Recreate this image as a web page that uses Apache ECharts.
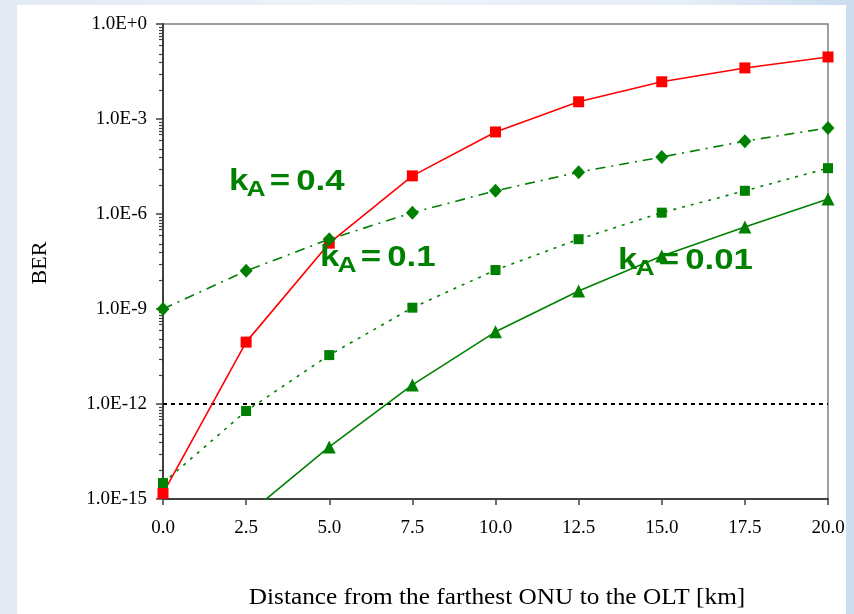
<!DOCTYPE html>
<html><head><meta charset="utf-8">
<script src="https://cdn.jsdelivr.net/npm/echarts@6/dist/echarts.min.js"></script>
<style>
html,body{margin:0;padding:0;width:854px;height:614px;overflow:hidden;
background:linear-gradient(90deg,#e2eaf4 0%,#edf2f8 40%,#e6eef7 80%,#cbdcef 100%);}
#chart{width:854px;height:614px;}
</style></head><body><div id="chart"></div>
<script>
// ---- data ----
const distances = [0, 2.5, 5, 7.5, 10, 12.5, 15, 17.5, 20];
const berRed      = [1.5e-15, 9e-11, 1.2e-7, 1.6e-5, 3.9e-4, 3.5e-3, 1.5e-2, 4.1e-2, 9.1e-2];
const berDiamond  = [1e-9, 1.6e-8, 1.6e-7, 1.1e-6, 5.4e-6, 2.1e-5, 6.3e-5, 2.0e-4, 5.2e-4];
const berSquare   = [3.2e-15, 6e-13, 3.5e-11, 1.1e-9, 1.7e-8, 1.6e-7, 1.1e-6, 5.4e-6, 2.8e-5];
const berTriangle = [2e-19, 3e-16, 4.4e-14, 4e-12, 1.9e-10, 3.7e-9, 4.7e-8, 3.9e-7, 3e-6];
const berThreshold = 1e-12;
const xTickLabels = ['0.0','2.5','5.0','7.5','10.0','12.5','15.0','17.5','20.0'];
const yTickLabels = ['1.0E-15','1.0E-12','1.0E-9','1.0E-6','1.0E-3','1.0E+0'];
const xTitle = 'Distance from the farthest ONU to the OLT [km]';
const yTitle = 'BER';
const annoK = ['k','k','k'];
const annoSub = ['A','A','A'];
const annoEq = ['=','=','='];
const annoVal = ['0.4','0.1','0.01'];

// ---- helpers ----
const pairs = arr => distances.map((d, i) => [d, arr[i]]);
const majorExp = [0, -3, -6, -9, -12];
const minorOffsets = [0.1, 0.19, 0.29, 0.38, 0.49, 0.66, 0.95, 1.22, 1.58, 2.1];
const minorTicks = [];
majorExp.forEach(e => minorOffsets.forEach(d => minorTicks.push(Math.pow(10, e - d))));

const GREEN = '#008000';
const annoPos = [
  {x: 229, base: 192},
  {x: 320, base: 268},
  {x: 618, base: 271}
];
const SX = 1.2;
const bigFont = 'bold 29px "Liberation Sans", Arial, sans-serif';
const graphics = [
  {type: 'rect', z: -10, silent: true, shape: {x: 17, y: 5, width: 829, height: 620}, style: {fill: '#ffffff'}}
];
annoPos.forEach((p, i) => {
  graphics.push({
    type: 'group', x: p.x, y: p.base, scaleX: SX, z: 50,
    children: [
      {type: 'text', z: 50, style: {text: annoK[i], x: 0, y: -10, verticalAlign: 'middle', font: bigFont, fill: GREEN}},
      {type: 'text', z: 50, style: {text: annoSub[i], x: 14.5, y: 6 - 7.7, verticalAlign: 'middle',
        font: 'bold 22px "Liberation Sans", Arial, sans-serif', fill: GREEN}},
      {type: 'text', z: 50, style: {text: annoEq[i], x: 34, y: -10, verticalAlign: 'middle', font: bigFont, fill: GREEN}},
      {type: 'text', z: 50, style: {text: annoVal[i], x: 56, y: -10, verticalAlign: 'middle', font: bigFont, fill: GREEN}}
    ]
  });
});
graphics.push({type: 'text', z: 50, x: 497, y: 598, scaleX: 1.1, style: {text: xTitle, x: 0, y: 0, align: 'center', verticalAlign: 'middle',
  font: '23px "Liberation Serif", "Times New Roman", serif', fill: '#000'}});
graphics.push({type: 'text', z: 50, rotation: Math.PI / 2, x: 40, y: 263, style: {text: yTitle, x: 0, y: 0, align: 'center', verticalAlign: 'middle',
  font: '22px "Liberation Serif", "Times New Roman", serif', fill: '#000'}});

const serifLabel = {fontFamily: '"Liberation Serif", "Times New Roman", serif', fontSize: 19, color: '#000'};

const chart = echarts.init(document.getElementById('chart'), null, {renderer: 'canvas'});
chart.setOption({
  animation: false,
  backgroundColor: 'transparent',
  grid: {left: 163, top: 24, width: 665, height: 475, show: true, borderColor: '#808080', borderWidth: 1.5, backgroundColor: 'transparent'},
  graphic: graphics,
  xAxis: {
    type: 'value', min: 0, max: 20, interval: 2.5,
    axisLine: {show: true, lineStyle: {color: '#404040', width: 2}},
    axisTick: {show: true, length: 6, inside: false, lineStyle: {color: '#404040', width: 1.5}},
    splitLine: {show: false},
    axisLabel: Object.assign({margin: 20, formatter: v => xTickLabels[Math.round(v / 2.5)]}, serifLabel)
  },
  yAxis: [
    {
      type: 'log', logBase: 10, min: 1e-15, max: 1, interval: 3,
      axisLine: {show: true, lineStyle: {color: '#404040', width: 2}},
      axisTick: {show: true, length: 7, lineStyle: {color: '#404040', width: 1.5}},
      splitLine: {show: false},
      axisLabel: Object.assign({margin: 16, formatter: v => yTickLabels[Math.round((Math.log10(v) + 15) / 3)]}, serifLabel)
    },
    {
      type: 'log', logBase: 10, min: 1e-15, max: 1, interval: 3, position: 'left',
      axisLine: {show: false},
      axisTick: {show: true, length: 4, customValues: minorTicks, lineStyle: {color: '#404040', width: 1.2}},
      splitLine: {show: false},
      axisLabel: {show: false}
    }
  ],
  series: [
    {
      type: 'line', name: 'threshold', data: [[0, berThreshold], [20, berThreshold]], yAxisIndex: 0,
      symbol: 'none', lineStyle: {color: '#000', width: 2, type: [4, 4]}, z: 1
    },
    {
      type: 'line', name: 'red', data: pairs(berRed), symbol: 'rect', symbolSize: 11,
      itemStyle: {color: '#ff0000'}, lineStyle: {color: '#ff0000', width: 1.6}, z: 2
    },
    {
      type: 'line', name: 'diamond', data: pairs(berDiamond), symbol: 'diamond', symbolSize: [13, 14],
      itemStyle: {color: GREEN}, lineStyle: {color: GREEN, width: 1.6, type: [10, 6, 2, 6]}, z: 3
    },
    {
      type: 'line', name: 'square', data: pairs(berSquare), symbol: 'rect', symbolSize: 10,
      itemStyle: {color: GREEN}, lineStyle: {color: GREEN, width: 1.6, type: [3, 6]}, z: 4
    },
    {
      type: 'line', name: 'triangle', data: pairs(berTriangle), symbol: 'triangle', symbolSize: 13,
      itemStyle: {color: GREEN}, lineStyle: {color: GREEN, width: 1.6}, z: 5
    }
  ]
});
</script></body></html>
